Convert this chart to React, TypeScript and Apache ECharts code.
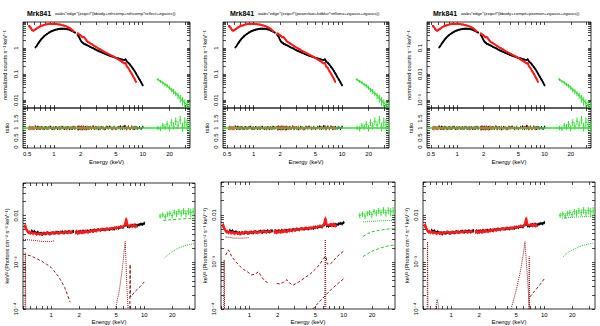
import React, { useEffect, useRef } from 'react';
import * as echarts from 'echarts';

// ---------------- data ----------------
const SOURCE = 'Mrk841';
const MODELS = [
  'wabs*edge*(zxipcf*(bbody+nthcomp+nthcomp*reflect+zgauss))',
  'wabs*edge*(zxipcf*(powerlaw+kdblur*reflionx+zgauss+zgauss))',
  'wabs*edge*(zxipcf*(bbody+comptt+pexmon+zgauss+zgauss))',
];
const TOP_X_TICKS = [0.5, 1, 2, 5, 10, 20];
const BOT_X_TICKS = [1, 2, 5, 10, 20];
const TOP_Y_TICKS = [[0.01, 0.1, 1], [0.01, 0.1, 1], [1e-3, 0.01, 0.1]];
const TOP_Y_LABELS = [['0.01', '0.1', '1'], ['0.01', '0.1', '1'], ['10⁻³', '0.01', '0.1']];
const TOP_Y_SCALE = [1, 1, 0.1];
const RATIO_TICKS = [0, 0.5, 1, 1.5];
const BOT_Y_TICKS = [1e-4, 1e-3, 0.01];
const BOT_Y_LABELS = ['10⁻⁴', '10⁻³', '0.01'];

// counts spectra (normalized counts s^-1 keV^-1)
const BLACK_SOFT_E = [0.62, 0.64, 0.66, 0.68, 0.70, 0.72, 0.75, 0.78, 0.81, 0.84, 0.88, 0.92, 0.96, 1.0, 1.05, 1.1, 1.15, 1.2, 1.26, 1.32, 1.38, 1.44, 1.5, 1.56, 1.62, 1.68, 1.74];
const BLACK_SOFT_C = [1.05, 1.2, 1.45, 1.65, 1.9, 2.15, 2.5, 2.85, 3.2, 3.5, 3.9, 4.25, 4.55, 4.8, 5.05, 5.25, 5.4, 5.5, 5.55, 5.5, 5.4, 5.25, 5.05, 4.75, 4.45, 4.2, 3.9];
const BLACK_HARD_E = [1.84, 1.88, 1.92, 1.96, 2.0, 2.05, 2.1, 2.15, 2.2, 2.27, 2.35, 2.45, 2.55, 2.65, 2.78, 2.9, 3.05, 3.2, 3.4, 3.6, 3.8, 4.0, 4.25, 4.5, 4.75, 5.0, 5.3, 5.6, 5.9, 6.2, 6.4, 6.6, 6.9, 7.2, 7.5, 7.8, 8.1, 8.4, 8.8, 9.2, 9.6, 10.0];
const BLACK_HARD_C = [3.3, 3.0, 2.7, 2.3, 2.0, 1.75, 1.62, 1.55, 1.42, 1.38, 1.3, 1.22, 1.12, 1.05, 0.98, 0.9, 0.82, 0.76, 0.7, 0.64, 0.6, 0.55, 0.51, 0.48, 0.45, 0.42, 0.4, 0.38, 0.36, 0.35, 0.37, 0.31, 0.27, 0.23, 0.19, 0.16, 0.13, 0.105, 0.08, 0.062, 0.048, 0.037];
const RED_SOFT_E = [0.52, 0.53, 0.54, 0.55, 0.56, 0.57, 0.58, 0.59, 0.60, 0.62, 0.64, 0.66, 0.68, 0.70, 0.73, 0.76, 0.79, 0.82, 0.86, 0.90, 0.94, 0.98, 1.02, 1.07, 1.12, 1.17, 1.22, 1.28, 1.34, 1.40, 1.46, 1.52, 1.58, 1.64, 1.70];
const RED_SOFT_C = [6.8, 7.1, 6.4, 5.9, 5.3, 4.9, 4.7, 4.6, 4.8, 5.2, 5.6, 6.0, 6.5, 6.8, 7.2, 7.5, 7.8, 8.1, 8.3, 8.5, 8.4, 8.6, 8.4, 8.3, 8.1, 8.0, 7.7, 7.4, 7.1, 6.6, 6.2, 5.7, 5.2, 4.6, 4.1];
const RED_HARD_E = [1.84, 1.87, 1.9, 1.94, 1.98, 2.02, 2.06, 2.1, 2.15, 2.2, 2.25, 2.3, 2.36, 2.42, 2.5, 2.58, 2.66, 2.75, 2.85, 2.95, 3.05, 3.2, 3.35, 3.5, 3.7, 3.9, 4.1, 4.3, 4.55, 4.8, 5.05, 5.3, 5.6, 5.9, 6.2, 6.4, 6.6, 6.9, 7.2, 7.5, 7.8, 8.1, 8.4];
const RED_HARD_C = [3.7, 3.5, 3.6, 3.3, 3.1, 3.0, 2.8, 2.6, 2.7, 2.55, 2.3, 2.1, 1.85, 1.7, 1.62, 1.5, 1.42, 1.3, 1.22, 1.12, 1.05, 0.95, 0.88, 0.8, 0.72, 0.65, 0.6, 0.55, 0.5, 0.45, 0.41, 0.37, 0.33, 0.29, 0.26, 0.27, 0.2, 0.17, 0.13, 0.105, 0.082, 0.065, 0.05];
const GREEN_E = [14.8, 15.8, 16.8, 17.8, 18.8, 19.9, 21.0, 22.2, 23.5, 24.9, 26.4, 28.0, 29.7, 31.5, 33.4];
const GREEN_C = [0.062, 0.053, 0.047, 0.04, 0.036, 0.03, 0.025, 0.022, 0.018, 0.015, 0.012, 0.0095, 0.0078, 0.0065, 0.0056];
const GREEN_CERR = [0.008, 0.007, 0.007, 0.006, 0.006, 0.005, 0.005, 0.005, 0.004, 0.004, 0.004, 0.0035, 0.003, 0.003, 0.003];
const EPIC_REL_ERR = 0.08; // relative 1-sigma error of the EPIC points

// ratios
const RATIO_ERR = 0.08;
const BLACK_SOFT_R = [1.06, 0.98, 1.04, 1.0, 0.97, 1.03, 1.0, 0.98, 1.02, 0.99, 1.01, 1.04, 0.97, 1.0, 1.02, 0.98, 1.01, 0.99, 1.03, 0.98, 1.0, 1.02, 0.97, 1.01, 0.99, 1.03, 1.0];
const BLACK_HARD_R = [1.02, 0.95, 1.05, 0.98, 1.0, 1.04, 0.96, 1.01, 0.99, 1.03, 0.97, 1.0, 1.02, 0.98, 1.04, 0.99, 1.01, 0.96, 1.03, 1.0, 0.98, 1.02, 1.05, 0.99, 1.01, 0.97, 1.03, 1.06, 0.98, 1.08, 1.02, 0.99, 1.05, 0.97, 1.04, 1.0, 0.98, 1.03, 0.99, 1.02, 0.97, 1.04];
const RED_SOFT_R = [0.98, 1.04, 0.95, 1.02, 0.99, 1.03, 0.97, 1.01, 0.96, 1.02, 1.0, 0.98, 1.03, 0.99, 1.01, 0.97, 1.02, 1.0, 0.98, 1.03, 0.99, 1.01, 0.97, 1.02, 1.0, 0.98, 1.03, 0.99, 1.01, 0.96, 1.02, 1.0, 0.98, 1.04, 0.99];
const RED_HARD_R = [1.03, 0.96, 1.05, 0.98, 1.02, 0.95, 1.04, 0.99, 1.06, 0.97, 1.01, 0.94, 1.05, 1.0, 0.97, 1.03, 0.98, 1.06, 0.96, 1.02, 0.99, 1.04, 0.97, 1.01, 0.95, 1.05, 0.99, 1.02, 0.96, 1.04, 0.98, 1.01, 0.97, 1.03, 0.99, 1.08, 0.95, 1.02, 0.97, 1.05, 0.96, 1.03, 0.98];
const GREEN_R = [1.0, 0.96, 1.12, 1.05, 1.2, 0.98, 1.28, 1.1, 1.35, 1.15, 1.42, 1.05, 1.3, 1.18, 1.0];
const GREEN_RERR = [0.12, 0.13, 0.14, 0.15, 0.16, 0.17, 0.18, 0.19, 0.2, 0.21, 0.22, 0.24, 0.26, 0.28, 0.3];

// unfolded spectra (keV^2 photons cm^-2 s^-1 keV^-1)
const BLACK_SOFT_U = [0.0047, 0.0044, 0.0046, 0.0043, 0.0042, 0.0044, 0.0041, 0.0042, 0.004, 0.0042, 0.0041, 0.0043, 0.0041, 0.0042, 0.0043, 0.0042, 0.0044, 0.0043, 0.0044, 0.0045, 0.0043, 0.0045, 0.0044, 0.0046, 0.0044, 0.0045, 0.0046];
const RED_SOFT_U = [0.0058, 0.0062, 0.0052, 0.0049, 0.0046, 0.0044, 0.0043, 0.0045, 0.0042, 0.0044, 0.0041, 0.0043, 0.0042, 0.004, 0.0042, 0.0041, 0.004, 0.0042, 0.0041, 0.0043, 0.0042, 0.0041, 0.0043, 0.0042, 0.0044, 0.0043, 0.0042, 0.0044, 0.0043, 0.0045, 0.0044, 0.0043, 0.0045, 0.0044, 0.0046];
const BLACK_HARD_U = [0.0044, 0.0046, 0.0043, 0.0045, 0.0044, 0.0046, 0.0045, 0.0044, 0.0047, 0.0045, 0.0046, 0.0047, 0.0046, 0.0048, 0.0047, 0.0049, 0.0048, 0.005, 0.0049, 0.0051, 0.005, 0.0052, 0.0051, 0.0053, 0.0052, 0.0055, 0.0054, 0.0057, 0.0056, 0.0062, 0.0075, 0.0059, 0.0058, 0.006, 0.0062, 0.006, 0.0063, 0.0061, 0.0064, 0.0066, 0.0065, 0.0069];
const RED_HARD_U = [0.0043, 0.0046, 0.0044, 0.0042, 0.0045, 0.0043, 0.0046, 0.0044, 0.0043, 0.0046, 0.0044, 0.0045, 0.0047, 0.0045, 0.0044, 0.0047, 0.0046, 0.0048, 0.0046, 0.0049, 0.0047, 0.005, 0.0049, 0.0051, 0.005, 0.0052, 0.0051, 0.0053, 0.0052, 0.0055, 0.0054, 0.0056, 0.0058, 0.0057, 0.0064, 0.0085, 0.0062, 0.006, 0.0063, 0.0059, 0.0064, 0.0058, 0.0062];
const GREEN_U = [0.0098, 0.0104, 0.0095, 0.0108, 0.0112, 0.0101, 0.0118, 0.011, 0.0122, 0.0113, 0.0126, 0.0111, 0.0124, 0.0117, 0.0121];
const GREEN_UERR = [0.0012, 0.0013, 0.0013, 0.0014, 0.0015, 0.0015, 0.0016, 0.0017, 0.0018, 0.0018, 0.002, 0.002, 0.0022, 0.0024, 0.0026];

// model components, [energy keV, E F_E]
const P1_BBODY = [[0.5, 0.0015], [0.6, 0.00138], [0.7, 0.0012], [0.8, 0.00105], [0.9, 0.0009], [1.0, 0.00078], [1.1, 0.00062], [1.2, 0.0005], [1.3, 0.00038], [1.4, 0.00029], [1.5, 0.0002], [1.6, 0.00014]];
const P1_CONT = [[0.5, 0.0031], [0.6, 0.003], [0.7, 0.0029], [0.8, 0.0028], [0.9, 0.0028], [1.0, 0.0028], [1.1, 0.0029]];
const P1_OVII = [[0.525, 1e-4], [0.53, 0.0016], [0.535, 1e-4]];
const P1_FE = [[4.9, 1e-4], [5.4, 0.00025], [5.8, 0.0007], [6.1, 0.0018], [6.25, 0.0028], [6.35, 0.0012], [6.5, 0.0003], [6.7, 1e-4]];
const P1_EDGE = [[7.0, 1e-4], [7.05, 0.0009], [7.1, 0.00018], [8, 0.00024], [9, 0.0003], [10, 0.00038]];
const P1_G_HI = [[16, 0.0079], [20, 0.0082], [25, 0.0085], [30, 0.0087], [35, 0.0088]];
const P1_G_LO = [[16.5, 0.00125], [18, 0.00145], [20, 0.0017], [23, 0.002], [26, 0.0022], [30, 0.0024], [35, 0.0025]];

const P2_REFL_S = [[0.56, 0.0014], [0.6, 0.0018], [0.65, 0.0013], [0.72, 0.001], [0.8, 0.0008], [0.86, 0.0007], [0.95, 0.00062], [1.05, 0.00053], [1.15, 0.00055], [1.25, 0.00062], [1.35, 0.00048], [1.45, 0.0004], [1.6, 0.00035]];
const P2_REFL_H = [[1.95, 0.00035], [2.1, 0.00034], [2.3, 0.00037], [2.5, 0.00042], [2.65, 0.00036], [2.9, 0.00032], [3.3, 0.00037], [3.8, 0.00045], [4.4, 0.00055], [5.0, 0.0007], [5.6, 0.0009], [6.1, 0.0012], [6.5, 0.0013], [6.7, 0.0009], [7.3, 0.00092], [8.5, 0.0013], [10, 0.0017]];
const P2_OVII = [[0.535, 1e-4], [0.54, 0.0011], [0.545, 1e-4]];
const P2_FE = [[6.3, 1e-4], [6.38, 0.003], [6.46, 1e-4]];
const P2_PL = [[4.7, 1e-4], [6, 0.00017], [7.5, 0.00027], [10, 0.00044]];
const P2_CONT = [[0.56, 0.0034], [0.7, 0.0032], [0.85, 0.0032], [1.0, 0.0033]];
const P2_G1 = [[16, 0.0071], [20, 0.0073], [25, 0.0075], [30, 0.0076], [35, 0.0076]];
const P2_G2 = [[16, 0.0035], [18, 0.004], [20, 0.0044], [25, 0.0048], [30, 0.005], [35, 0.0051]];
const P2_G3 = [[16, 0.0013], [18, 0.0015], [20, 0.0017], [25, 0.002], [30, 0.0022], [35, 0.0023]];

const P3_OVII = [[0.555, 1e-4], [0.56, 0.0027], [0.565, 1e-4]];
const P3_SMALL = [[0.68, 1e-4], [0.71, 0.00016], [0.74, 1e-4]];
const P3_FE = [[4.4, 1e-4], [5.0, 0.00025], [5.6, 0.0007], [6.0, 0.0016], [6.2, 0.0027], [6.4, 0.0011], [6.7, 0.0003], [6.9, 1e-4]];
const P3_FE2 = [[6.85, 1e-4], [6.9, 0.0013], [6.95, 1e-4]];
const P3_EDGE = [[7.0, 0.00018], [8, 0.00025], [9, 0.00033], [10.1, 0.00045]];
const P3_G_HI = [[15.5, 0.0085], [20, 0.0089], [25, 0.0091], [30, 0.0092], [33, 0.0092]];
const P3_G_LO = [[16, 0.0013], [18, 0.0016], [20, 0.0018], [25, 0.0022], [30, 0.0024], [33, 0.0025]];

// ---------------- styling / layout ----------------
const FONT = 'Liberation Sans, DejaVu Sans, sans-serif';
const RED = '#ff1a1a';
const BLACK = '#000000';
const GREEN = '#33dd33';
const COMP_RED = '#8a1a1a';
const COMP_GREEN = '#33bb33';

const GRIDS = [
  { left: 23, top: 22, width: 167, height: 86 },
  { left: 23, top: 108, width: 167, height: 40 },
  { left: 223, top: 22, width: 166, height: 86 },
  { left: 223, top: 108, width: 166, height: 40 },
  { left: 427, top: 22, width: 164, height: 86 },
  { left: 427, top: 108, width: 164, height: 40 },
  { left: 23, top: 183, width: 172, height: 126 },
  { left: 221, top: 182, width: 174, height: 127 },
  { left: 423, top: 182, width: 172, height: 127 },
];
const TITLE_LEFT = [27, 230, 433];

const lg = Math.log10;

function logTicks(min: number, max: number) {
  const out: number[] = [];
  for (let k = -6; k <= 3; k++) {
    for (let m = 1; m <= 9; m++) {
      const v = m * Math.pow(10, k);
      if (v >= min * 0.9999 && v <= max * 1.0001) out.push(lg(v));
    }
  }
  return out;
}
function linTicks(min: number, max: number, step: number) {
  const out: number[] = [];
  for (let v = Math.ceil(min / step) * step; v <= max + 1e-9; v += step) out.push(Math.round(v * 1000) / 1000);
  return out;
}
function fmtE(v: number) {
  const e = Math.pow(10, v);
  return e < 0.99 ? e.toFixed(1) : String(Math.round(e));
}

const xs: any[] = [];
const ys: any[] = [];

function addAxes(cfg: any) {
  const gi = cfg.gi;
  const tickStyle = { color: '#000', width: 0.7 };
  const xMin = lg(cfg.xmin), xMax = lg(cfg.xmax);
  const xt = logTicks(cfg.xmin, cfg.xmax);
  const hiddenLine = { show: false, onZero: false };
  xs.push({
    type: 'value', gridIndex: gi, min: xMin, max: xMax, position: 'bottom',
    axisLine: hiddenLine, splitLine: { show: false },
    axisTick: { show: true, inside: true, length: 3, customValues: xt, lineStyle: tickStyle },
    axisLabel: cfg.xLabels
      ? { show: true, customValues: cfg.xLabels.map(lg), formatter: fmtE, fontSize: 6, margin: 3, color: '#000', fontFamily: FONT }
      : { show: false },
    name: cfg.xName || '', nameLocation: 'middle', nameGap: cfg.xNameGap || 10,
    nameTextStyle: { fontSize: 6, fontFamily: FONT, color: '#000' },
  });
  xs.push({
    type: 'value', gridIndex: gi, min: xMin, max: xMax, position: 'top',
    axisLine: hiddenLine, splitLine: { show: false },
    axisTick: { show: true, inside: true, length: 3, customValues: xt, lineStyle: tickStyle },
    axisLabel: { show: false },
  });
  const yMin = cfg.yLog ? lg(cfg.ymin) : cfg.ymin;
  const yMax = cfg.yLog ? lg(cfg.ymax) : cfg.ymax;
  const yt = cfg.yLog ? logTicks(cfg.ymin, cfg.ymax) : linTicks(cfg.ymin, cfg.ymax, 0.1);
  const yLabVals = cfg.yLabels.map((v: number) => (cfg.yLog ? lg(v) : v));
  const fmtY = (v: number) => {
    for (let i = 0; i < yLabVals.length; i++) if (Math.abs(yLabVals[i] - v) < 1e-6) return cfg.yLabelText[i];
    return '';
  };
  ys.push({
    type: 'value', gridIndex: gi, min: yMin, max: yMax, position: 'left',
    axisLine: hiddenLine, splitLine: { show: false },
    axisTick: { show: true, inside: true, length: 3, customValues: yt, lineStyle: tickStyle },
    axisLabel: { show: true, customValues: yLabVals, formatter: fmtY, rotate: 90, fontSize: 6, margin: 4, color: '#000', fontFamily: FONT },
    name: cfg.yName, nameLocation: 'middle', nameGap: cfg.yNameGap, nameRotate: 90,
    nameTextStyle: { fontSize: 5.5, fontFamily: FONT, color: '#000' },
  });
  ys.push({
    type: 'value', gridIndex: gi, min: yMin, max: yMax, position: 'right',
    axisLine: hiddenLine, splitLine: { show: false },
    axisTick: { show: true, inside: true, length: 3, customValues: yt, lineStyle: tickStyle },
    axisLabel: { show: false },
  });
}

function zip(E: number[], V: number[]) {
  return E.map((e, i) => [e, V[i]]);
}

function lineS(gi: number, pts: number[][], color: string, width: number, type: any, yLog = true, s = 1) {
  return {
    type: 'line', xAxisIndex: 2 * gi, yAxisIndex: 2 * gi,
    data: pts.map(([e, v]) => [lg(e), yLog ? lg(v * s) : v]),
    showSymbol: false, symbol: 'none', silent: true, clip: true,
    lineStyle: { color, width, type },
  };
}

// err: number (absolute), array (absolute), or {rel: r} (relative)
function errS(gi: number, E: number[], V: number[], err: any, color: string, yLog: boolean, width = 1, s = 1) {
  const lx = E.map(lg);
  const data = E.map((e, i) => {
    const x = lx[i];
    const xl = i > 0 ? (lx[i - 1] + x) / 2 : x - (lx[i + 1] - x) / 2;
    const xr = i < E.length - 1 ? (lx[i + 1] + x) / 2 : x + (x - lx[i - 1]) / 2;
    const v = V[i] * s;
    const er = err && err.rel !== undefined ? v * err.rel : (Array.isArray(err) ? err[i] : err) * s;
    const lo = v - er, hi = v + er;
    return yLog ? [x, lg(v), lg(Math.max(lo, 1e-9)), lg(hi), xl, xr] : [x, v, lo, hi, xl, xr];
  });
  return {
    type: 'custom', xAxisIndex: 2 * gi, yAxisIndex: 2 * gi, clip: true, silent: true,
    encode: { x: 0, y: 1 },
    data,
    renderItem: (params: any, api: any) => {
      const x = api.value(0), y = api.value(1), lo = api.value(2), hi = api.value(3), xl = api.value(4), xr = api.value(5);
      const a = api.coord([xl, y]), b = api.coord([xr, y]);
      const c = api.coord([x, lo]), d = api.coord([x, hi]);
      return {
        type: 'group',
        children: [
          { type: 'line', shape: { x1: a[0], y1: a[1], x2: b[0], y2: b[1] }, style: { stroke: color, lineWidth: width } },
          { type: 'line', shape: { x1: c[0], y1: c[1], x2: d[0], y2: d[1] }, style: { stroke: color, lineWidth: width } },
        ],
      };
    },
  };
}

function buildOption() {
  xs.length = 0;
  ys.length = 0;
  const series: any[] = [];

  // top panels: spectrum + ratio
  for (let c = 0; c < 3; c++) {
    const gs = 2 * c, gr = 2 * c + 1;
    const sc = TOP_Y_SCALE[c];
    addAxes({
      gi: gs, xmin: 0.45, xmax: 34, yLog: true, ymin: 5e-3 * sc, ymax: 10 * sc,
      yLabels: TOP_Y_TICKS[c], yLabelText: TOP_Y_LABELS[c],
      yName: 'normalized counts s⁻¹ keV⁻¹', yNameGap: 15,
    });
    addAxes({
      gi: gr, xmin: 0.45, xmax: 34, xLabels: TOP_X_TICKS, xName: 'Energy (keV)', xNameGap: 11,
      yLog: false, ymin: -0.05, ymax: 2.05, yLabels: RATIO_TICKS, yLabelText: ['0', '0.5', '1', '1.5'],
      yName: 'ratio', yNameGap: 13,
    });
    const rel = { rel: EPIC_REL_ERR };
    series.push(errS(gs, BLACK_SOFT_E, BLACK_SOFT_C, rel, BLACK, true, 1, sc));
    series.push(errS(gs, BLACK_HARD_E, BLACK_HARD_C, rel, BLACK, true, 1, sc));
    series.push(lineS(gs, zip(BLACK_SOFT_E, BLACK_SOFT_C), BLACK, 1.8, 'solid', true, sc));
    series.push(lineS(gs, zip(BLACK_HARD_E, BLACK_HARD_C), BLACK, 1.8, 'solid', true, sc));
    series.push(errS(gs, RED_SOFT_E, RED_SOFT_C, rel, RED, true, 1, sc));
    series.push(errS(gs, RED_HARD_E, RED_HARD_C, rel, RED, true, 1, sc));
    series.push(lineS(gs, zip(RED_SOFT_E, RED_SOFT_C), RED, 2, 'solid', true, sc));
    series.push(lineS(gs, zip(RED_HARD_E, RED_HARD_C), RED, 2, 'solid', true, sc));
    series.push(errS(gs, GREEN_E, GREEN_C, GREEN_CERR, GREEN, true, 1, sc));
    series.push(lineS(gs, zip(GREEN_E, GREEN_C), GREEN, 1, 'solid', true, sc));

    series.push(errS(gr, BLACK_SOFT_E, BLACK_SOFT_R, RATIO_ERR, BLACK, false, 1));
    series.push(errS(gr, BLACK_HARD_E, BLACK_HARD_R, RATIO_ERR, BLACK, false, 1));
    series.push(errS(gr, RED_SOFT_E, RED_SOFT_R, RATIO_ERR, RED, false, 1));
    series.push(errS(gr, RED_HARD_E, RED_HARD_R, RATIO_ERR, RED, false, 1));
    series.push(errS(gr, GREEN_E, GREEN_R, GREEN_RERR, GREEN, false, 1));
    series.push({
      type: 'line', xAxisIndex: 2 * gr, yAxisIndex: 2 * gr, data: [], silent: true,
      markLine: {
        silent: true, symbol: 'none', label: { show: false },
        lineStyle: { color: GREEN, width: 1.5, type: 'solid' },
        data: [{ yAxis: 1 }],
      },
    });
  }

  // bottom panels: unfolded spectra
  const comps = [
    [
      [P1_BBODY, COMP_RED, [3, 2]], [P1_CONT, COMP_RED, 'dotted'], [P1_OVII, COMP_RED, 'dotted'],
      [P1_FE, COMP_RED, 'dotted'], [P1_EDGE, COMP_RED, [3, 2]], [P1_G_HI, COMP_GREEN, [3, 2]], [P1_G_LO, COMP_GREEN, 'dotted'],
    ],
    [
      [P2_REFL_S, COMP_RED, [3, 2]], [P2_REFL_H, COMP_RED, [3, 2]], [P2_OVII, COMP_RED, 'dotted'], [P2_FE, COMP_RED, 'dotted'],
      [P2_PL, COMP_RED, [3, 2]], [P2_CONT, COMP_RED, 'dotted'], [P2_G1, COMP_GREEN, 'dotted'], [P2_G2, COMP_GREEN, [3, 2]], [P2_G3, COMP_GREEN, [3, 2]],
    ],
    [
      [P3_OVII, COMP_RED, 'dotted'], [P3_SMALL, COMP_RED, 'dotted'], [P3_FE, COMP_RED, 'dotted'], [P3_FE2, COMP_RED, 'dotted'],
      [P3_EDGE, COMP_RED, [3, 2]], [P3_G_HI, COMP_GREEN, 'dotted'], [P3_G_LO, COMP_GREEN, 'dotted'],
    ],
  ];
  for (let c = 0; c < 3; c++) {
    const g = 6 + c;
    addAxes({
      gi: g, xmin: 0.5, xmax: 35, xLabels: BOT_X_TICKS, xName: 'Energy (keV)', xNameGap: 9,
      yLog: true, ymin: 1e-4, ymax: 0.05, yLabels: BOT_Y_TICKS, yLabelText: BOT_Y_LABELS,
      yName: 'keV² (Photons cm⁻² s⁻¹ keV⁻¹)', yNameGap: 13,
    });
    for (const [pts, col, tp] of comps[c] as any[]) series.push(lineS(g, pts, col, 1, tp));
    const rel = { rel: EPIC_REL_ERR };
    series.push(errS(g, BLACK_SOFT_E, BLACK_SOFT_U, rel, BLACK, true, 1));
    series.push(errS(g, BLACK_HARD_E, BLACK_HARD_U, rel, BLACK, true, 1));
    series.push(lineS(g, zip(BLACK_SOFT_E, BLACK_SOFT_U), BLACK, 1.8, 'solid'));
    series.push(lineS(g, zip(BLACK_HARD_E, BLACK_HARD_U), BLACK, 1.8, 'solid'));
    series.push(errS(g, RED_SOFT_E, RED_SOFT_U, rel, RED, true, 1));
    series.push(errS(g, RED_HARD_E, RED_HARD_U, rel, RED, true, 1));
    series.push(lineS(g, zip(RED_SOFT_E, RED_SOFT_U), RED, 2.2, 'solid'));
    series.push(lineS(g, zip(RED_HARD_E, RED_HARD_U), RED, 2.2, 'solid'));
    series.push(errS(g, GREEN_E, GREEN_U, GREEN_UERR, GREEN, true, 1));
  }

  const graphic: any[] = [];
  MODELS.forEach((m, i) => {
    graphic.push({
      type: 'text', left: TITLE_LEFT[i], top: 10, silent: true,
      style: { text: SOURCE, fill: '#000000', font: `bold 7px ${FONT}` },
    });
    graphic.push({
      type: 'text', left: TITLE_LEFT[i] + 28, top: 11.5, silent: true,
      style: { text: m, fill: '#000000', font: `4.3px ${FONT}` },
    });
  });

  return {
    animation: false,
    backgroundColor: '#ffffff',
    graphic,
    grid: GRIDS.map((g) => ({ ...g, show: true, borderColor: '#000', borderWidth: 0.8, backgroundColor: 'transparent', containLabel: false })),
    xAxis: xs,
    yAxis: ys,
    series,
  };
}

export default function App() {
  const ref = useRef<HTMLDivElement>(null);
  useEffect(() => {
    const chart = echarts.init(ref.current as HTMLDivElement, null, { renderer: 'svg' });
    chart.setOption(buildOption() as any);
    return () => chart.dispose();
  }, []);
  return <div ref={ref} style={{ position: 'fixed', left: 0, top: 0, width: 600, height: 326, background: '#fff' }} />;
}
